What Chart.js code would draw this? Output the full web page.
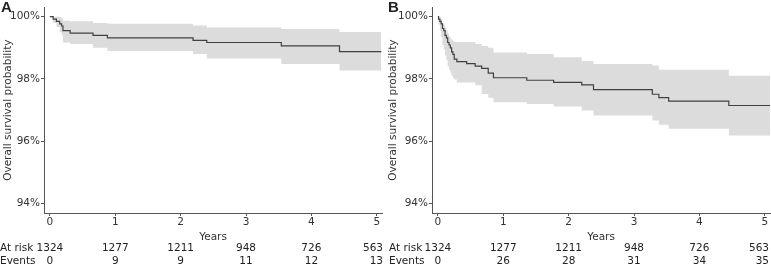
<!DOCTYPE html>
<html>
<head>
<meta charset="utf-8">
<script src="https://cdn.jsdelivr.net/npm/chart.js@4"></script>
<style>
  body { margin: 0; background: #fff; }
  #wrap { position: relative; width: 771px; height: 277px; }
  .panel { position: absolute; top: 0; height: 277px; }
  .tag { position: absolute; top: -1px; font: bold 15px "Liberation Sans", Arial, sans-serif; line-height: 15px; color: #222; }
</style>
</head>
<body>
<div id="wrap">
  <div class="panel" style="left:0;width:385px"><canvas id="panel_a" width="385" height="277"></canvas></div>
  <div class="panel" style="left:385px;width:386px"><canvas id="panel_b" width="386" height="277"></canvas></div>
  <div class="tag" style="left:1px">A</div>
  <div class="tag" style="left:388px">B</div>
</div>
<script>
// tick labels / risk table
const yearTicks = [0, 1, 2, 3, 4, 5];
const survTicks = [94, 96, 98, 100];
const riskLabels = ["At risk", "Events"];
const atRiskA = [1324, 1277, 1211, 948, 726, 563];
const eventsA = [0, 9, 9, 11, 12, 13];
const atRiskB = [1324, 1277, 1211, 948, 726, 563];
const eventsB = [0, 26, 28, 31, 34, 35];

// panel A: KM estimate (%) with 95% CI
const timesA = [0, 0.05, 0.1, 0.15, 0.18, 0.2, 0.31, 0.66, 0.88, 2.19, 2.4, 3.54, 4.43, 5.07];
const survA = [100, 99.92, 99.85, 99.77, 99.7, 99.55, 99.47, 99.4, 99.32, 99.24, 99.17, 99.06, 98.88, 98.88];
const upperA = [100, 100, 100, 99.98, 99.95, 99.87, 99.85, 99.8, 99.77, 99.72, 99.65, 99.6, 99.51, 99.51];
const lowerA = [100, 99.8, 99.66, 99.5, 99.4, 99.17, 99.12, 99.0, 98.9, 98.8, 98.66, 98.48, 98.27, 98.27];

// panel B
const timesB = [0, 0.01, 0.03, 0.05, 0.07, 0.09, 0.11, 0.13, 0.15, 0.17, 0.19, 0.21, 0.23, 0.25, 0.29,
  0.44, 0.57, 0.67, 0.77, 0.85, 1.36, 1.77, 2.2, 2.38, 3.28, 3.38, 3.53, 4.45, 5.09];
const survB = [100, 99.92, 99.85, 99.77, 99.62, 99.55, 99.4, 99.32, 99.17, 99.09, 99.0, 98.87, 98.79, 98.64, 98.56,
  98.49, 98.41, 98.34, 98.19, 98.04, 97.96, 97.89, 97.81, 97.66, 97.51, 97.4, 97.29, 97.15, 97.15];
const upperB = [100, 100, 99.98, 99.9, 99.8, 99.75, 99.65, 99.55, 99.45, 99.38, 99.3, 99.25, 99.22, 99.19, 99.19,
  99.19, 99.12, 99.06, 99.0, 98.85, 98.8, 98.7, 98.58, 98.48, 98.43, 98.3, 98.3, 98.1, 98.1];
const lowerB = [100, 99.75, 99.55, 99.35, 99.1, 98.95, 98.75, 98.6, 98.4, 98.3, 98.2, 98.1, 98.03, 97.98, 97.89,
  97.89, 97.8, 97.52, 97.4, 97.25, 97.2, 97.12, 96.99, 96.83, 96.67, 96.53, 96.4, 96.19, 96.19];

const FONT = { family: "'DejaVu Sans', Verdana, sans-serif", size: 10.5 };
const AXIS = "#555";
const BAND = "#dcdcdc";

const pts = (xs, ys) => xs.map((x, i) => ({ x: x, y: ys[i] }));

const riskTable = (atRisk, events, labelX) => ({
  id: "riskTable",
  afterDraw(chart) {
    const ctx = chart.ctx;
    const x = chart.scales.x;
    ctx.save();
    ctx.font = `${FONT.size}px ${FONT.family}`;
    ctx.fillStyle = "#222";
    ctx.textBaseline = "middle";
    ctx.textAlign = "left";
    ctx.fillText(riskLabels[0], labelX, 248);
    ctx.fillText(riskLabels[1], labelX, 261);
    ctx.textAlign = "center";
    // keep the last column inside the canvas
    const put = (txt, px, py) => {
      const half = ctx.measureText(txt).width / 2;
      ctx.fillText(txt, Math.min(px, chart.width - 2 - half), py);
    };
    yearTicks.forEach((t, i) => {
      const px = x.getPixelForValue(t);
      put(String(atRisk[i]), px, 248);
      put(String(events[i]), px, 261);
    });
    ctx.restore();
  },
});

const createKmChart = (id, times, surv, upper, lower, atRisk, events, yWidth, padRight, labelX) => {
  const ctx = document.getElementById(id);
  return new Chart(ctx, {
    type: "line",
    data: {
      datasets: [
        {
          data: pts(times, surv),
          stepped: true,
          borderColor: "#404040",
          borderWidth: 1.2,
          pointRadius: 0,
          fill: false,
        },
        {
          data: pts(times, upper),
          stepped: true,
          borderWidth: 0,
          borderColor: "rgba(0,0,0,0)",
          backgroundColor: BAND,
          pointRadius: 0,
          fill: "+1",
        },
        {
          data: pts(times, lower),
          stepped: true,
          borderWidth: 0,
          borderColor: "rgba(0,0,0,0)",
          pointRadius: 0,
          fill: false,
        },
      ],
    },
    options: {
      responsive: false,
      animation: false,
      devicePixelRatio: 1,
      layout: { padding: { top: 7, right: padRight, left: 0, bottom: 0 } },
      plugins: {
        legend: { display: false },
        tooltip: { enabled: false },
      },
      scales: {
        x: {
          type: "linear",
          min: -0.09,
          max: 5.08,
          afterBuildTicks: (s) => { s.ticks = yearTicks.map((v) => ({ value: v })); },
          afterFit: (s) => { s.height = 64; },
          ticks: {
            callback: (v) => String(v),
            font: FONT,
            color: "#333",
            padding: 0,
            maxRotation: 0,
          },
          grid: { drawOnChartArea: false, tickLength: 3, color: AXIS },
          border: { color: AXIS, width: 1 },
          title: {
            display: true,
            text: "Years",
            font: FONT,
            color: "#333",
            padding: { top: 0, bottom: 33 },
          },
        },
        y: {
          type: "linear",
          min: 93.7,
          max: 100.3,
          afterBuildTicks: (s) => { s.ticks = survTicks.map((v) => ({ value: v })); },
          afterFit: (s) => { s.width = yWidth; },
          ticks: {
            callback: (v) => v + "%",
            font: FONT,
            color: "#333",
            padding: 1,
          },
          grid: { drawOnChartArea: false, tickLength: 3, color: AXIS },
          border: { color: AXIS, width: 1 },
          title: {
            display: true,
            text: "Overall survival probability",
            font: FONT,
            color: "#333",
            padding: { top: 2, bottom: 0 },
          },
        },
      },
    },
    plugins: [riskTable(atRisk, events, labelX)],
  });
};

createKmChart("panel_a", timesA, survA, upperA, lowerA, atRiskA, eventsA, 44, 3, 0);
createKmChart("panel_b", timesB, survB, upperB, lowerB, atRiskB, eventsB, 47, 1, 4);
</script>
</body>
</html>
